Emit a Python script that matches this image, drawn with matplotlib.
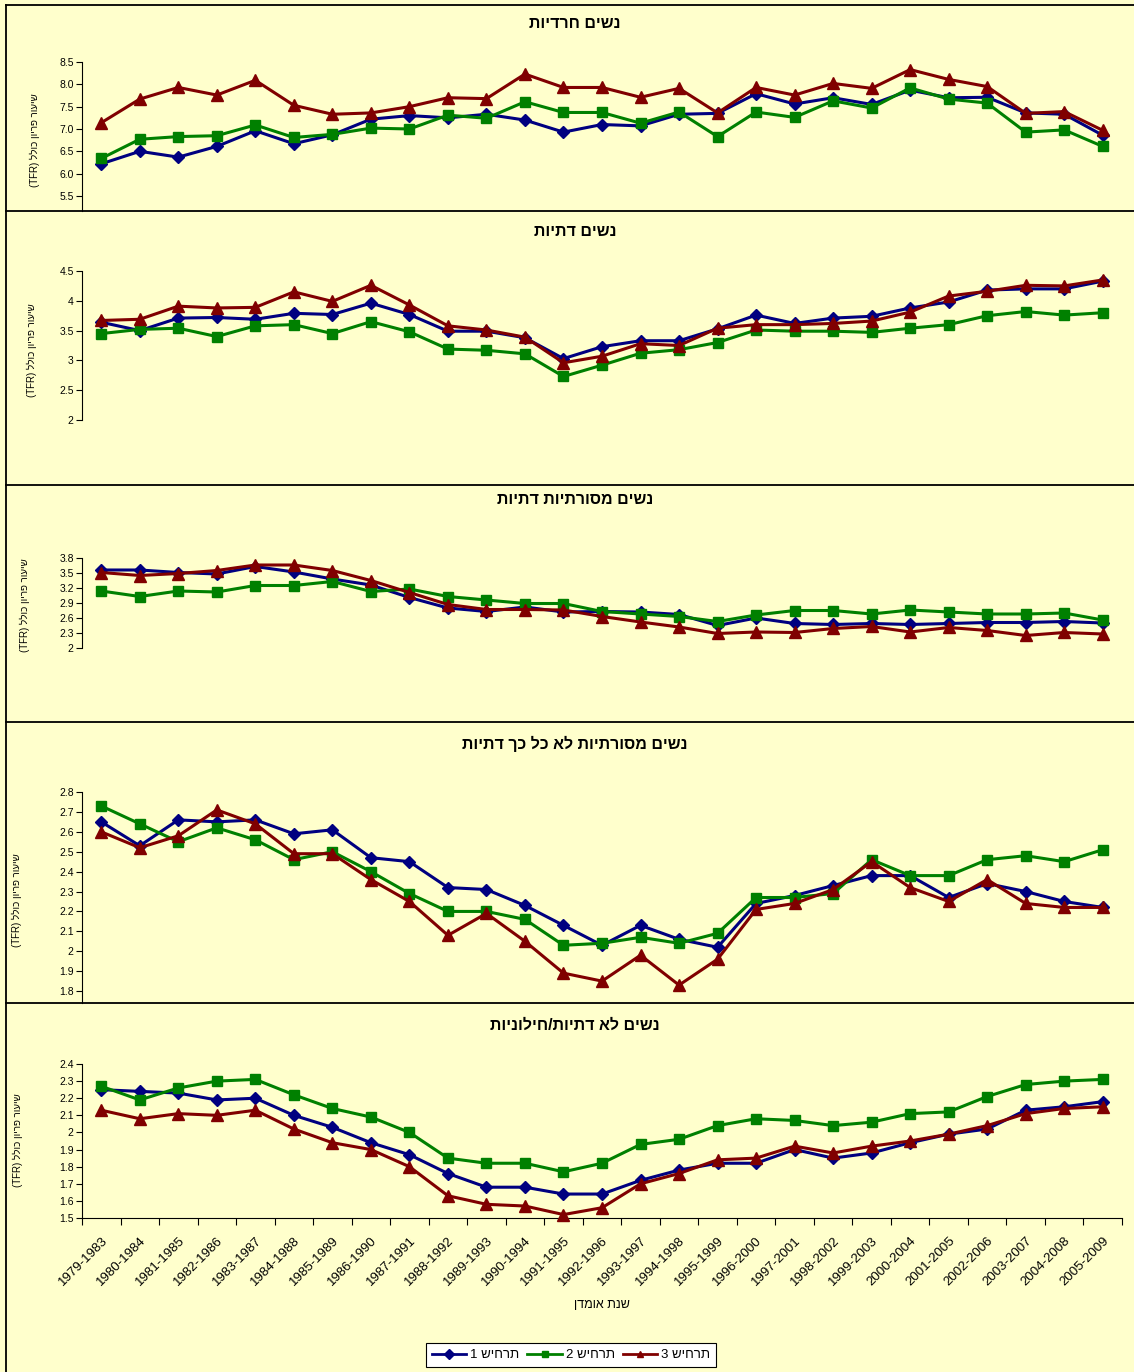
import matplotlib
matplotlib.use("Agg")  # headless

import matplotlib.pyplot as plt
from matplotlib.lines import Line2D
import numpy as np

W, H = 1134, 1372
BG = "#FFFFCC"
FONT = ["Liberation Sans", "DejaVu Sans"]
plt.rcParams["font.family"] = FONT

# --------------------------------------------------------------------------- #
# Data
# --------------------------------------------------------------------------- #

periods = ["1979-1983", "1980-1984", "1981-1985", "1982-1986", "1983-1987",
           "1984-1988", "1985-1989", "1986-1990", "1987-1991", "1988-1992",
           "1989-1993", "1990-1994", "1991-1995", "1992-1996", "1993-1997",
           "1994-1998", "1995-1999", "1996-2000", "1997-2001", "1998-2002",
           "1999-2003", "2000-2004", "2001-2005", "2002-2006", "2003-2007",
           "2004-2008", "2005-2009"]

series_names = ["תרחיש 1", "תרחיש 2", "תרחיש 3"]

haredi_1 = [6.22, 6.50, 6.37, 6.61, 6.96, 6.67, 6.87, 7.22, 7.30, 7.25, 7.33, 7.20, 6.93, 7.10,
            7.07, 7.33, 7.35, 7.79, 7.56, 7.70, 7.55, 7.87, 7.70, 7.71, 7.36, 7.33, 6.86]
haredi_2 = [6.34, 6.77, 6.83, 6.85, 7.09, 6.81, 6.88, 7.02, 7.00, 7.31, 7.24, 7.61, 7.37, 7.37,
            7.13, 7.38, 6.83, 7.38, 7.26, 7.63, 7.47, 7.92, 7.67, 7.58, 6.93, 6.98, 6.61]
haredi_3 = [7.14, 7.67, 7.93, 7.76, 8.09, 7.53, 7.33, 7.36, 7.50, 7.70, 7.68, 8.23, 7.93, 7.93,
            7.71, 7.91, 7.36, 7.93, 7.76, 8.02, 7.91, 8.33, 8.11, 7.95, 7.35, 7.39, 6.97]

dati_1 = [3.64, 3.50, 3.71, 3.72, 3.69, 3.79, 3.77, 3.96, 3.77, 3.49, 3.49, 3.38, 3.03, 3.23,
          3.33, 3.33, 3.53, 3.76, 3.62, 3.71, 3.74, 3.88, 3.98, 4.18, 4.20, 4.20, 4.33]
dati_2 = [3.45, 3.52, 3.54, 3.40, 3.58, 3.60, 3.45, 3.65, 3.48, 3.19, 3.17, 3.11, 2.73, 2.92,
          3.12, 3.18, 3.30, 3.51, 3.49, 3.49, 3.47, 3.54, 3.60, 3.75, 3.82, 3.76, 3.80]
dati_3 = [3.67, 3.69, 3.91, 3.88, 3.89, 4.15, 3.99, 4.26, 3.93, 3.58, 3.51, 3.39, 2.96, 3.07,
          3.28, 3.25, 3.54, 3.60, 3.60, 3.62, 3.66, 3.81, 4.08, 4.16, 4.26, 4.25, 4.35]

masoratit_dati_1 = [3.56, 3.56, 3.51, 3.48, 3.63, 3.52, 3.38, 3.26, 3.01, 2.80, 2.73, 2.82, 2.72,
                    2.73, 2.72, 2.67, 2.45, 2.60, 2.49, 2.47, 2.49, 2.47, 2.49, 2.51, 2.51, 2.53, 2.50]
masoratit_dati_2 = [3.14, 3.03, 3.14, 3.12, 3.25, 3.25, 3.33, 3.13, 3.18, 3.03, 2.96, 2.89, 2.89,
                    2.73, 2.68, 2.63, 2.53, 2.66, 2.75, 2.75, 2.68, 2.76, 2.72, 2.68, 2.68, 2.70, 2.56]
masoratit_dati_3 = [3.51, 3.45, 3.49, 3.55, 3.66, 3.66, 3.55, 3.35, 3.11, 2.87, 2.77, 2.77, 2.76,
                    2.63, 2.52, 2.42, 2.29, 2.32, 2.31, 2.39, 2.43, 2.32, 2.41, 2.35, 2.25, 2.31, 2.28]

masoratit_lo_1 = [2.65, 2.53, 2.66, 2.65, 2.66, 2.59, 2.61, 2.47, 2.45, 2.32, 2.31, 2.23, 2.13,
                  2.03, 2.13, 2.06, 2.02, 2.24, 2.28, 2.33, 2.38, 2.38, 2.27, 2.34, 2.30, 2.25, 2.22]
masoratit_lo_2 = [2.73, 2.64, 2.55, 2.62, 2.56, 2.46, 2.50, 2.40, 2.29, 2.20, 2.20, 2.16, 2.03,
                  2.04, 2.07, 2.04, 2.09, 2.27, 2.27, 2.29, 2.46, 2.38, 2.38, 2.46, 2.48, 2.45, 2.51]
masoratit_lo_3 = [2.60, 2.52, 2.58, 2.71, 2.64, 2.49, 2.49, 2.36, 2.25, 2.08, 2.19, 2.05, 1.89,
                  1.85, 1.98, 1.83, 1.96, 2.21, 2.24, 2.31, 2.45, 2.32, 2.25, 2.36, 2.24, 2.22, 2.22]

hiloni_1 = [2.25, 2.24, 2.23, 2.19, 2.20, 2.10, 2.03, 1.94, 1.87, 1.76, 1.68, 1.68, 1.64, 1.64,
            1.72, 1.78, 1.82, 1.82, 1.90, 1.85, 1.88, 1.94, 1.99, 2.02, 2.13, 2.15, 2.18]
hiloni_2 = [2.27, 2.19, 2.26, 2.30, 2.31, 2.22, 2.14, 2.09, 2.00, 1.85, 1.82, 1.82, 1.77, 1.82,
            1.93, 1.96, 2.04, 2.08, 2.07, 2.04, 2.06, 2.11, 2.12, 2.21, 2.28, 2.30, 2.31]
hiloni_3 = [2.13, 2.08, 2.11, 2.10, 2.13, 2.02, 1.94, 1.90, 1.80, 1.63, 1.58, 1.57, 1.52, 1.56,
            1.70, 1.76, 1.84, 1.85, 1.92, 1.88, 1.92, 1.95, 1.99, 2.04, 2.11, 2.14, 2.15]

titles = ["נשים חרדיות", "נשים דתיות", "נשים מסורתיות דתיות",
          "נשים מסורתיות לא כל כך דתיות", "נשים לא דתיות/חילוניות"]

yticks_1 = [5.5, 6.0, 6.5, 7.0, 7.5, 8.0, 8.5]
yticks_2 = [2, 2.5, 3, 3.5, 4, 4.5]
yticks_3 = [2, 2.3, 2.6, 2.9, 3.2, 3.5, 3.8]
yticks_4 = [1.8, 1.9, 2, 2.1, 2.2, 2.3, 2.4, 2.5, 2.6, 2.7, 2.8]
yticks_5 = [1.5, 1.6, 1.7, 1.8, 1.9, 2, 2.1, 2.2, 2.3, 2.4]
ytick_fmt = ["{:.1f}", "{:g}", "{:g}", "{:g}", "{:g}"]

ylabel_text = "שיעור פריון כולל"
xlabel_text = "שנת אומדן"


def rtl(s: str) -> str:
    """matplotlib has no bidi; draw Hebrew in visual order."""
    return s[::-1]


# --------------------------------------------------------------------------- #
# Layout (pixel boxes: axes top/bottom, ylim, title y, ylabel x/y)
# --------------------------------------------------------------------------- #

AX_LEFT, AX_RIGHT = 82, 1122
panels = [
    dict(data=(haredi_1, haredi_2, haredi_3), top=62, bottom=211, ylim=(5.164, 8.5),
         yticks=yticks_1, title_y=24, ylab=(35, 140)),
    dict(data=(dati_1, dati_2, dati_3), top=271, bottom=420, ylim=(2, 4.5),
         yticks=yticks_2, title_y=231, ylab=(32, 350)),
    dict(data=(masoratit_dati_1, masoratit_dati_2, masoratit_dati_3), top=558, bottom=648,
         ylim=(2, 3.8), yticks=yticks_3, title_y=500, ylab=(25, 605)),
    dict(data=(masoratit_lo_1, masoratit_lo_2, masoratit_lo_3), top=792, bottom=1003,
         ylim=(1.74, 2.8), yticks=yticks_4, title_y=744, ylab=(17, 900)),
    dict(data=(hiloni_1, hiloni_2, hiloni_3), top=1064, bottom=1218, ylim=(1.5, 2.4),
         yticks=yticks_5, title_y=1025, ylab=(18, 1140)),
]
borders_y = [5, 211, 485, 722, 1003]

colors = ["#000080", "#008000", "#800000"]
markers = ["D", "s", "^"]
msizes = [6.5, 7.5, 8.5]


def fx(px):
    return px / W


def fy(py):
    return 1 - py / H


fig = plt.figure(figsize=(W / 100, H / 100), dpi=100, facecolor=BG)

for y in borders_y:
    fig.add_artist(Line2D([fx(6), 1.0], [fy(y), fy(y)], transform=fig.transFigure,
                          color="black", lw=1.3))
fig.add_artist(Line2D([fx(6), fx(6)], [fy(5), 0.0], transform=fig.transFigure,
                      color="black", lw=1.3))

x = np.arange(len(periods))
last = len(panels) - 1
for i, p in enumerate(panels):
    ax = fig.add_axes([fx(AX_LEFT), fy(p["bottom"]), fx(AX_RIGHT - AX_LEFT),
                       (p["bottom"] - p["top"]) / H])
    ax.set_facecolor("none")
    for vals, c, m, ms, name in zip(p["data"], colors, markers, msizes, series_names):
        ax.plot(x, vals, color=c, lw=2.2, marker=m, ms=ms, mfc=c, mec=c,
                label=rtl(name), clip_on=False, zorder=3)
    ax.set_xlim(-0.5, len(periods) - 0.5)
    ax.set_ylim(*p["ylim"])
    ax.set_yticks(p["yticks"])
    ax.set_yticklabels([ytick_fmt[i].format(t) for t in p["yticks"]])
    ax.tick_params(axis="y", direction="out", length=4, width=0.8, labelsize=7.5, pad=2)
    for s in ("top", "right"):
        ax.spines[s].set_visible(False)
    ax.spines["left"].set_linewidth(0.8)
    if i == last:
        ax.set_xticks(x)
        ax.set_xticklabels(periods, rotation=45, ha="right", va="top",
                           rotation_mode="anchor", fontsize=9.5)
        ax.set_xticks(np.arange(-0.5, len(periods)), minor=True)
        ax.tick_params(axis="x", which="major", length=0, pad=12)
        ax.tick_params(axis="x", which="minor", direction="out", length=5, width=0.8)
        ax.spines["bottom"].set_linewidth(0.8)
    else:
        ax.spines["bottom"].set_visible(False)
        ax.set_xticks([])

    fig.text(fx(575), fy(p["title_y"]), rtl(titles[i]), ha="center", va="center",
             fontsize=11.5, fontweight="bold")
    fig.text(fx(p["ylab"][0]), fy(p["ylab"][1]), "(TFR) " + rtl(ylabel_text),
             rotation=90, ha="center", va="center", fontsize=7)

fig.text(fx((AX_LEFT + AX_RIGHT) / 2), fy(1305), rtl(xlabel_text), ha="center",
         va="center", fontsize=9)

handles = [Line2D([], [], color=c, lw=2.0, marker=m, ms=5, mfc=c, mec=c)
           for c, m in zip(colors, markers)]
leg = fig.legend(handles, [rtl(n) for n in series_names], loc="upper center",
                 bbox_to_anchor=(fx(571), fy(1343)), ncol=3, fontsize=9.5,
                 frameon=True, fancybox=False, edgecolor="black", facecolor="white",
                 framealpha=1, handlelength=2.6, handletextpad=0.3, columnspacing=0.6,
                 borderpad=0.45, borderaxespad=0)
leg.get_frame().set_linewidth(0.8)

fig.savefig("out.png", dpi=100, facecolor=BG)
